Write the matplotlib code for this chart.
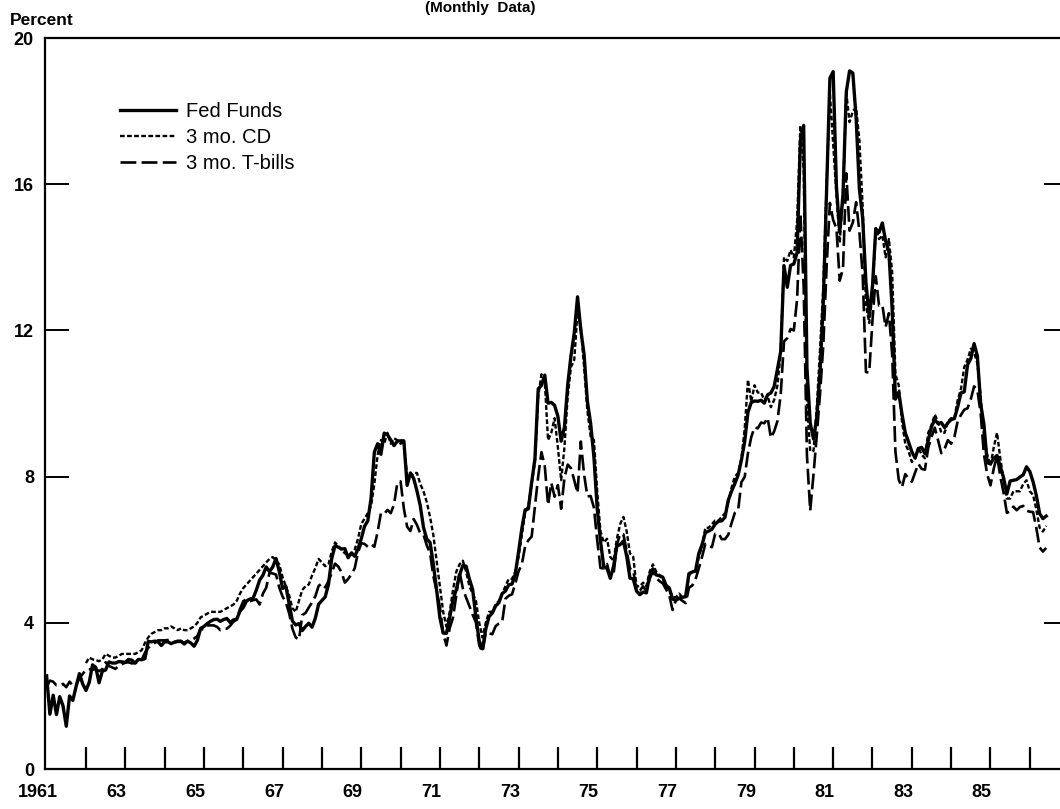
import numpy as np
import matplotlib
matplotlib.use("Agg")
import matplotlib.pyplot as plt

# monthly rates, percent
fed_funds = [
    2.55, 1.50, 2.02, 1.49, 1.98, 1.73, 1.17, 2.00, 1.88, 2.26, 2.61, 2.33,   # 1961
    2.15, 2.37, 2.85, 2.78, 2.36, 2.68, 2.71, 2.93, 2.90, 2.90, 2.94, 2.93,   # 1962
    2.92, 3.00, 2.98, 2.90, 3.00, 2.99, 3.02, 3.49, 3.48, 3.50, 3.48, 3.38,   # 1963
    3.48, 3.48, 3.43, 3.47, 3.50, 3.50, 3.42, 3.50, 3.45, 3.36, 3.52, 3.85,   # 1964
    3.90, 3.98, 4.04, 4.09, 4.10, 4.04, 4.09, 4.12, 4.01, 4.08, 4.10, 4.32,   # 1965
    4.42, 4.60, 4.65, 4.67, 4.90, 5.17, 5.30, 5.53, 5.40, 5.53, 5.76, 5.40,   # 1966
    4.94, 5.00, 4.53, 4.05, 3.94, 3.98, 3.79, 3.90, 3.99, 3.88, 4.13, 4.51,   # 1967
    4.61, 4.71, 5.05, 5.76, 6.11, 6.07, 6.02, 6.03, 5.78, 5.91, 5.82, 6.02,   # 1968
    6.30, 6.64, 6.79, 7.41, 8.67, 8.90, 8.61, 9.19, 9.15, 9.00, 8.85, 8.97,   # 1969
    8.98, 8.98, 7.76, 8.10, 7.95, 7.61, 7.21, 6.61, 6.29, 6.20, 5.60, 4.90,   # 1970
    4.14, 3.72, 3.71, 4.15, 4.63, 4.91, 5.31, 5.57, 5.55, 5.20, 4.91, 4.14,   # 1971
    3.50, 3.29, 3.83, 4.17, 4.27, 4.46, 4.55, 4.80, 4.87, 5.04, 5.06, 5.33,   # 1972
    5.94, 6.58, 7.09, 7.12, 7.84, 8.49, 10.40, 10.50, 10.78, 10.01, 10.03, 9.95,  # 1973
    9.65, 8.97, 9.35, 10.51, 11.31, 11.93, 12.92, 12.01, 11.34, 10.06, 9.45, 8.53,  # 1974
    7.13, 6.24, 5.54, 5.49, 5.22, 5.55, 6.10, 6.14, 6.24, 5.82, 5.22, 5.20,   # 1975
    4.87, 4.77, 4.84, 4.82, 5.29, 5.48, 5.31, 5.29, 5.25, 5.03, 4.95, 4.65,   # 1976
    4.61, 4.68, 4.69, 4.73, 5.35, 5.39, 5.42, 5.90, 6.14, 6.47, 6.51, 6.56,   # 1977
    6.70, 6.78, 6.79, 6.89, 7.36, 7.60, 7.81, 8.04, 8.45, 8.96, 9.76, 10.03,  # 1978
    10.07, 10.06, 10.09, 10.01, 10.24, 10.29, 10.47, 10.94, 11.43, 13.77, 13.18, 13.78,  # 1979
    13.82, 14.13, 17.19, 17.61, 10.98, 9.47, 9.03, 9.61, 10.87, 12.81, 15.85, 18.90,  # 1980
    19.08, 15.93, 14.70, 15.72, 18.52, 19.10, 19.04, 17.82, 15.87, 15.08, 13.31, 12.37,  # 1981
    13.22, 14.78, 14.68, 14.94, 14.45, 14.15, 12.59, 10.12, 10.31, 9.71, 9.20, 8.95,  # 1982
    8.68, 8.51, 8.77, 8.80, 8.63, 8.98, 9.37, 9.56, 9.45, 9.48, 9.34, 9.47,   # 1983
    9.56, 9.59, 9.91, 10.29, 10.32, 11.06, 11.23, 11.64, 11.30, 9.99, 9.43, 8.38,  # 1984
    8.35, 8.50, 8.58, 8.27, 7.97, 7.53, 7.88, 7.90, 7.92, 7.99, 8.05, 8.27,   # 1985
    8.14, 7.86, 7.48, 6.99, 6.85, 6.92,                                       # 1986
]

tbills = [
    2.24, 2.42, 2.39, 2.29, 2.29, 2.33, 2.24, 2.39, 2.28, 2.30, 2.48, 2.60,
    2.72, 2.73, 2.72, 2.73, 2.68, 2.73, 2.92, 2.82, 2.78, 2.74, 2.83, 2.87,
    2.91, 2.92, 2.89, 2.90, 2.93, 2.99, 3.18, 3.32, 3.38, 3.45, 3.52, 3.52,
    3.52, 3.53, 3.54, 3.47, 3.48, 3.48, 3.46, 3.50, 3.53, 3.57, 3.64, 3.84,
    3.81, 3.93, 3.93, 3.93, 3.89, 3.80, 3.84, 3.84, 3.92, 4.03, 4.09, 4.38,
    4.59, 4.65, 4.59, 4.62, 4.64, 4.50, 4.80, 4.96, 5.37, 5.35, 5.32, 4.96,
    4.72, 4.56, 4.26, 3.84, 3.60, 3.54, 4.21, 4.27, 4.42, 4.56, 4.73, 5.01,
    5.08, 4.97, 5.14, 5.36, 5.62, 5.54, 5.38, 5.10, 5.20, 5.33, 5.49, 5.92,
    6.18, 6.16, 6.08, 6.15, 6.08, 6.49, 7.00, 6.98, 7.09, 7.00, 7.24, 7.82,
    7.87, 7.13, 6.63, 6.51, 6.84, 6.68, 6.45, 6.41, 6.12, 5.91, 5.28, 4.87,
    4.44, 3.70, 3.38, 3.86, 4.14, 4.75, 5.40, 4.94, 4.69, 4.46, 4.22, 4.01,
    3.38, 3.20, 3.73, 3.71, 3.69, 3.91, 3.98, 4.02, 4.66, 4.74, 4.78, 5.07,
    5.41, 5.60, 6.09, 6.26, 6.36, 7.19, 8.01, 8.67, 8.29, 7.22, 7.83, 7.45,
    7.77, 7.12, 7.96, 8.33, 8.23, 7.90, 7.55, 8.96, 8.06, 7.46, 7.47, 7.15,
    6.26, 5.50, 5.49, 5.61, 5.23, 5.34, 6.13, 6.44, 6.42, 5.96, 5.48, 5.44,
    4.87, 4.88, 5.00, 4.86, 5.20, 5.41, 5.23, 5.14, 5.08, 4.92, 4.75, 4.35,
    4.62, 4.67, 4.60, 4.54, 4.96, 5.02, 5.19, 5.49, 5.81, 6.16, 6.10, 6.07,
    6.44, 6.45, 6.29, 6.29, 6.41, 6.73, 7.01, 7.08, 7.85, 7.99, 8.64, 9.08,
    9.35, 9.32, 9.48, 9.46, 9.61, 9.06, 9.24, 9.52, 10.26, 11.70, 11.79, 12.04,
    12.00, 12.86, 15.20, 13.20, 8.58, 7.07, 8.06, 9.13, 10.27, 11.62, 13.73, 15.49,
    15.02, 14.79, 13.36, 13.69, 16.30, 14.73, 14.95, 15.51, 14.70, 13.54, 10.86, 10.85,
    12.28, 13.48, 12.68, 12.70, 12.09, 12.47, 11.35, 8.68, 7.92, 7.71, 8.07, 7.94,
    7.86, 8.11, 8.35, 8.21, 8.19, 8.79, 9.08, 9.34, 9.00, 8.64, 8.76, 9.00,
    8.90, 9.09, 9.52, 9.69, 9.83, 9.87, 10.12, 10.47, 10.37, 9.74, 8.61, 8.06,
    7.76, 8.22, 8.57, 8.00, 7.56, 7.01, 7.05, 7.18, 7.08, 7.17, 7.20, 7.07,
    7.04, 7.03, 6.59, 6.06, 5.95, 6.05,
]

# 3 mo. CD series starts in 1962
cd_rate = [
    2.90, 3.05, 3.00, 2.98, 2.95, 3.00, 3.15, 3.10, 3.05, 3.05, 3.10, 3.15,   # 1962
    3.15, 3.15, 3.15, 3.15, 3.20, 3.25, 3.45, 3.60, 3.70, 3.75, 3.80, 3.80,   # 1963
    3.85, 3.85, 3.90, 3.85, 3.80, 3.85, 3.80, 3.80, 3.85, 3.90, 4.00, 4.15,   # 1964
    4.20, 4.25, 4.30, 4.30, 4.30, 4.30, 4.35, 4.40, 4.45, 4.50, 4.60, 4.80,   # 1965
    4.95, 5.05, 5.15, 5.25, 5.35, 5.45, 5.55, 5.65, 5.75, 5.80, 5.70, 5.60,   # 1966
    5.25, 5.00, 4.75, 4.40, 4.30, 4.60, 4.90, 5.00, 5.05, 5.30, 5.50, 5.75,   # 1967
    5.65, 5.55, 5.60, 5.95, 6.20, 6.10, 6.00, 5.90, 5.85, 5.90, 6.00, 6.30,   # 1968
    6.70, 6.85, 7.00, 7.20, 7.80, 8.60, 9.00, 8.90, 9.20, 8.90, 9.05, 9.00,   # 1969
    8.90, 8.95, 8.00, 8.00, 8.10, 8.10, 7.80, 7.60, 7.30, 6.90, 6.40, 5.70,   # 1970
    5.00, 4.30, 3.90, 4.30, 4.90, 5.40, 5.60, 5.70, 5.40, 5.00, 4.80, 4.60,   # 1971
    4.00, 3.60, 4.00, 4.30, 4.30, 4.50, 4.60, 4.80, 5.00, 5.20, 5.20, 5.40,   # 1972
    5.80, 6.40, 7.00, 7.20, 7.80, 8.40, 10.20, 10.80, 10.60, 9.00, 9.20, 9.60,  # 1973
    8.80, 7.90, 8.80, 10.20, 11.00, 11.20, 12.50, 12.10, 11.00, 9.80, 9.10, 9.00,  # 1974
    7.60, 6.50, 6.20, 6.30, 5.80, 5.70, 6.30, 6.70, 6.90, 6.50, 5.90, 5.80,   # 1975
    5.00, 5.00, 5.10, 5.00, 5.40, 5.60, 5.40, 5.30, 5.20, 5.00, 4.90, 4.70,   # 1976
    4.70, 4.80, 4.70, 4.70, 5.30, 5.40, 5.40, 5.80, 6.10, 6.60, 6.60, 6.70,   # 1977
    6.80, 6.80, 6.90, 7.00, 7.30, 7.70, 8.00, 8.10, 8.50, 9.30, 10.65, 10.05,  # 1978
    10.50, 10.30, 10.30, 10.10, 10.20, 9.90, 10.10, 10.50, 11.40, 14.00, 13.90, 14.20,  # 1979
    14.00, 15.00, 17.60, 16.40, 10.00, 8.70, 8.70, 9.90, 11.50, 13.20, 16.00, 18.50,  # 1980
    17.10, 15.70, 14.40, 15.70, 18.50, 17.70, 18.00, 18.10, 17.20, 15.40, 12.70, 12.20,  # 1981
    13.00, 14.80, 14.50, 14.60, 14.00, 14.50, 13.60, 10.80, 10.50, 9.50, 8.90, 8.70,  # 1982
    8.40, 8.50, 8.80, 8.60, 8.50, 9.20, 9.40, 9.70, 9.50, 9.20, 9.20, 9.50,   # 1983
    9.60, 9.60, 10.10, 10.40, 11.00, 11.20, 11.50, 11.40, 11.10, 10.20, 9.10, 8.60,  # 1984
    8.30, 8.80, 9.20, 8.50, 7.90, 7.40, 7.40, 7.60, 7.60, 7.60, 7.80, 7.90,   # 1985
    7.60, 7.50, 7.10, 6.60, 6.50, 6.65,                                       # 1986
]

t_ff = 1961 + np.arange(len(fed_funds)) / 12
t_tb = 1961 + np.arange(len(tbills)) / 12
t_cd = 1962 + np.arange(len(cd_rate)) / 12

label_years = list(range(1961, 1986, 2))
x_labels = ["1961", "63", "65", "67", "69", "71", "73", "75", "77", "79", "81", "83", "85"]
y_ticks = [0, 4, 8, 12, 16, 20]

fig = plt.figure(figsize=(10.6, 8.09), dpi=100)
ax = fig.add_axes([0.0425, 0.0494, 0.965, 0.9036])

ax.plot(t_ff, fed_funds, color="black", lw=2.4, label="Fed Funds")
ax.plot(t_cd, cd_rate, color="black", lw=1.7, dashes=(2, 1), label="3 mo. CD")
ax.plot(t_tb, tbills, color="black", lw=1.9, dashes=(6, 2), label="3 mo. T-bills")

ax.set_xlim(1960.96, 1986.97)
ax.set_ylim(0, 20)

for s in ax.spines.values():
    s.set_linewidth(1.6)

ax.set_yticks(y_ticks)
ax.set_yticklabels([str(v) for v in y_ticks], fontfamily="Liberation Sans",
                   fontweight="bold", fontsize=13)
ax.tick_params(axis="y", direction="in", length=17, width=1.4, pad=8,
               left=True, right=True)

# year ticks; the 1961 one sits on the left spine
ax.set_xticks(range(1962, 1987))
ax.set_xticklabels([])
ax.tick_params(axis="x", direction="in", length=16, width=1.6)

for yr, lab in zip(label_years, x_labels):
    ax.text(yr - 0.22, -0.032, lab, transform=ax.get_xaxis_transform(),
            ha="center", va="center", fontsize=13, fontweight="bold",
            fontfamily="Liberation Sans", clip_on=False)

leg = ax.legend(loc="upper left", bbox_to_anchor=(0.073, 0.913), frameon=False,
                prop={"family": "Liberation Sans", "size": 14.5},
                handlelength=2.8, handletextpad=0.5, labelspacing=0.35,
                borderaxespad=0, borderpad=0)

fig.text(0.009, 0.975, "Percent", fontsize=12.5, fontweight="bold",
         fontfamily="Liberation Sans", va="center", ha="left")
fig.text(0.453, 0.99, "(Monthly  Data)", fontsize=11, fontweight="bold",
         fontfamily="Liberation Sans", va="center", ha="center")

fig.savefig("out.png", dpi=100)
